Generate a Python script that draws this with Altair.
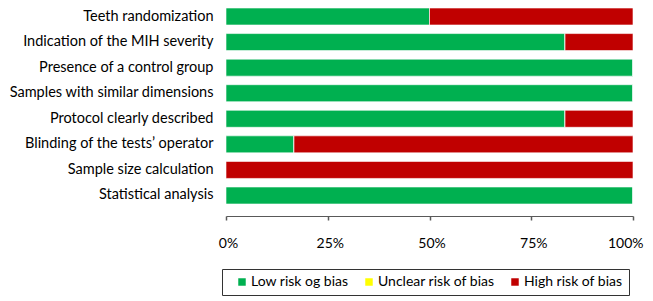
import altair as alt
import pandas as pd

categories = [
    "Teeth randomization",
    "Indication of the MIH severity",
    "Presence of a control group",
    "Samples with similar dimensions",
    "Protocol clearly described",
    "Blinding of the tests\u2019 operator",
    "Sample size calculation",
    "Statistical analysis",
]
low = [50, 83.3, 100, 100, 83.3, 16.7, 0, 100]
unclear = [0, 0, 0, 0, 0, 0, 0, 0]
high = [50, 16.7, 0, 0, 16.7, 83.3, 100, 0]

levels = ["Low risk og bias", "Unclear risk of bias", "High risk of bias"]
colors = ["#00B050", "#FFFF00", "#C00000"]
ticks = [0, 25, 50, 75, 100]

rows = []
for i, c in enumerate(categories):
    for k, (lvl, vals) in enumerate(zip(levels, [low, unclear, high])):
        rows.append({"cat": c, "level": lvl, "value": vals[i], "ord": k})
df = pd.DataFrame(rows)

FONT = "Lato"

chart = alt.Chart(df).mark_bar(stroke="white", strokeWidth=0.6).encode(
    y=alt.Y("cat:N", sort=categories, title=None,
            scale=alt.Scale(paddingInner=0.335, paddingOuter=0),
            axis=alt.Axis(ticks=False, domain=False, labelPadding=13,
                          labelFontSize=14.5, labelFont=FONT, labelColor="#000",
                          labelLimit=300)),
    x=alt.X("value:Q", stack="zero", title=None,
            scale=alt.Scale(domain=[0, 100], nice=False),
            axis=alt.Axis(values=ticks, labelExpr="datum.value + '%'",
                          grid=False, offset=12, tickSize=4, labelPadding=16,
                          labelFontSize=14, labelFont=FONT, labelColor="#000",
                          labelAlign={"condition": {"test": "datum.value == 100", "value": "right"}, "value": "center"},
                          labelOffset={"condition": {"test": "datum.value == 100", "value": 10}, "value": 2},
                          domainColor="#595959", tickColor="#595959",
                          domainWidth=1.2, tickWidth=1.5, labelFlush=False)),
    color=alt.Color("level:N", scale=alt.Scale(domain=levels, range=colors),
                    legend=alt.Legend(title=None, orient="none", legendX=-4,
                                      legendY=261, direction="horizontal",
                                      columns=3, symbolType="square",
                                      symbolSize=56, symbolStrokeWidth=0,
                                      symbolOffset=7,
                                      labelFontSize=14, labelFont=FONT,
                                      labelColor="#000", columnPadding=6,
                                      strokeColor="#333", padding=6,
                                      labelOffset=2)),
    order=alt.Order("ord:Q"),
).properties(
    width=407, height=196,
    autosize=alt.AutoSizeParams(type="none"),
    padding={"left": 218, "top": 0, "right": 11, "bottom": 95},
).configure_view(stroke=None)

chart.save("out.html", embed_options={"renderer": "svg", "actions": False})
